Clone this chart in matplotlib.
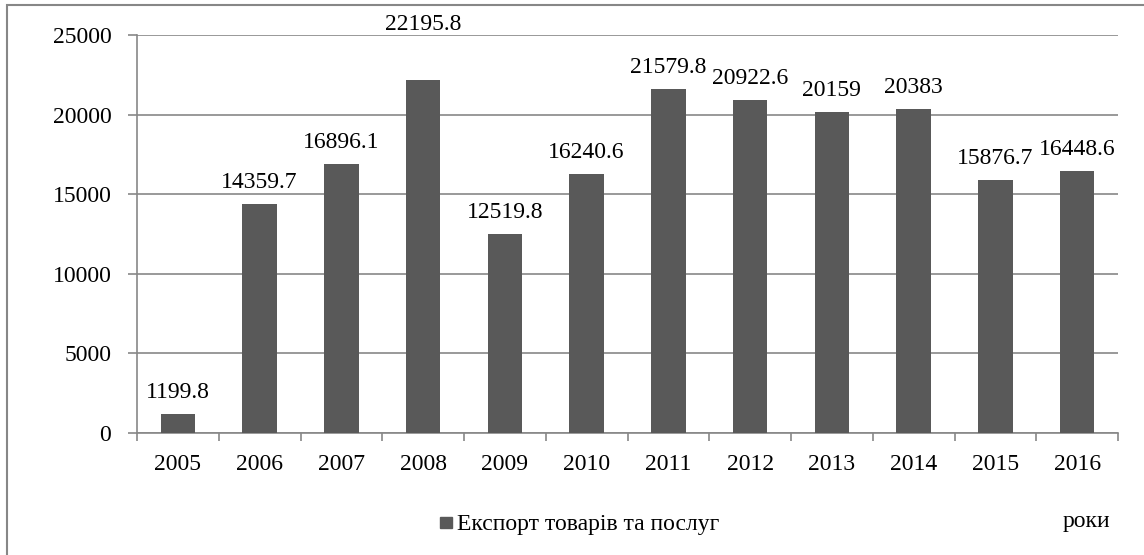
import matplotlib
matplotlib.use("Agg")
import matplotlib.pyplot as plt
from matplotlib.patches import Rectangle
import numpy as np

years = ["2005", "2006", "2007", "2008", "2009", "2010",
         "2011", "2012", "2013", "2014", "2015", "2016"]
export = [1199.8, 14359.7, 16896.1, 22195.8, 12519.8, 16240.6,
          21579.8, 20922.6, 20159, 20383, 15876.7, 16448.6]
labels = ["1199.8", "14359.7", "16896.1", "22195.8", "12519.8", "16240.6",
          "21579.8", "20922.6", "20159", "20383", "15876.7", "16448.6"]
yticks = [0, 5000, 10000, 15000, 20000, 25000]

plt.rcParams["font.family"] = ["Liberation Serif", "DejaVu Serif"]
GRAY = "#878787"
BAR = "#595959"
FS = 17

fig = plt.figure(figsize=(11.44, 5.55), dpi=100)
ax = fig.add_axes([137 / 1144, 1 - 433 / 555, (1118 - 137) / 1144, (433 - 35) / 555])

x = np.arange(len(years))
ax.bar(x, export, width=0.42, color=BAR, zorder=3)
# the 2008 label sits higher in the original
extra = {"2008": 24}
for xi, v, lab, yr in zip(x, export, labels, years):
    ax.annotate(lab, (xi, v), xytext=(0, 11.5 + extra.get(yr, 0)),
                textcoords="offset points", ha="center", va="baseline",
                fontsize=FS, color="black")

ax.set_xlim(-0.5, len(years) - 0.5)
ax.set_ylim(0, 25000)
ax.set_yticks(yticks)
ax.set_yticklabels([str(t) for t in yticks])
ax.yaxis.grid(True, color=GRAY, linewidth=1.2, zorder=0)
ax.set_xticks(x)
ax.set_xticklabels(years)
ax.set_xticks(np.arange(-0.5, len(years)), minor=True)
ax.tick_params(axis="x", which="major", length=0, pad=15, labelsize=FS)
ax.tick_params(axis="x", which="minor", length=6, width=1.2, color=GRAY)
ax.tick_params(axis="y", length=6.5, width=1.2, color=GRAY, pad=12, labelsize=FS)

for s in ["top", "right"]:
    ax.spines[s].set_visible(False)
for s in ["left", "bottom"]:
    ax.spines[s].set_color(GRAY)
    ax.spines[s].set_linewidth(1.2)

# legend at the bottom
fig.patches.append(Rectangle((440 / 1144, 1 - 528 / 555), 12 / 1144, 11 / 555,
                             transform=fig.transFigure, color=BAR))
fig.text(457 / 1144, 1 - 530 / 555, "Експорт товарів та послуг",
         ha="left", va="baseline", fontsize=FS)
fig.text(1110 / 1144, 1 - 527 / 555, "роки", ha="right", va="baseline", fontsize=FS)

# outer frame
fig.patches.append(Rectangle((7 / 1144, -0.05), 1.1, 1 - 5 / 555 + 0.05,
                             transform=fig.transFigure, fill=False,
                             edgecolor=GRAY, linewidth=1.5))

fig.savefig("out.png", dpi=100)
